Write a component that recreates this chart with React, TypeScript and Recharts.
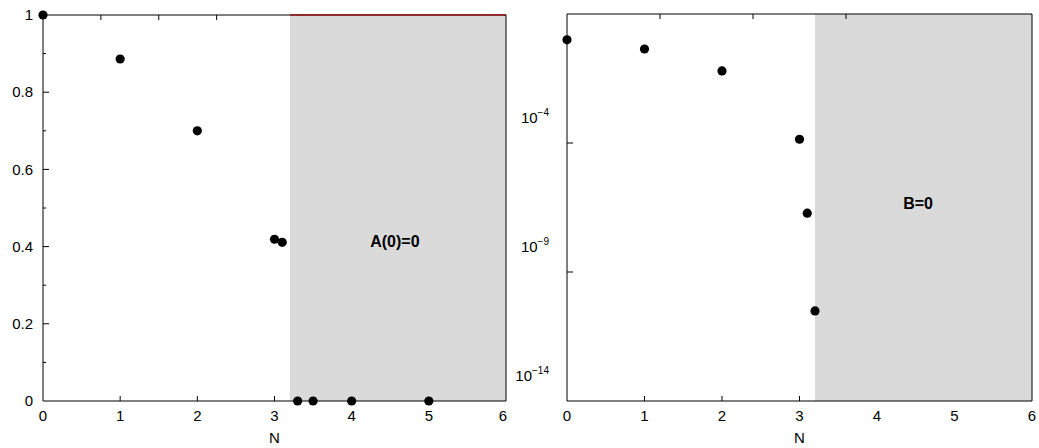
import { ComposedChart, Scatter, Line, XAxis, YAxis, ReferenceArea, ReferenceDot, ReferenceLine } from 'recharts';

// horizontal axis, shared by both panels
const nTicks = [0, 1, 2, 3, 4, 5, 6];
const shadeStart = 3.2;

// left panel: A(0) against N
const leftN = [0, 1, 2, 3, 3.1, 3.3, 3.5, 4, 5];
const leftA = [1, 0.886, 0.7, 0.419, 0.411, 0, 0, 0, 0];
const leftYTicks = [0, 0.1, 0.2, 0.3, 0.4, 0.5, 0.6, 0.7, 0.8, 0.9, 1];
const leftLabelled = [0, 0.2, 0.4, 0.6, 0.8, 1];
const edgeN = [3.2, 6];
const edgeA = [1, 1];

// right panel: B against N (log scale)
const rightN = [0, 1, 2, 3, 3.1, 3.2];
const rightB = [1.0, 0.44, 0.062, 1.4e-4, 1.9e-7, 3.1e-11];
const rightYTicks = [1e-4, 1e-9, 1e-14];
const rightExp = ['−4', '−9', '−14'];

const leftData = leftN.map((n, i) => ({ n, v: leftA[i] }));
const edgeData = edgeN.map((n, i) => ({ n, v: edgeA[i] }));
const rightData = rightN.map((n, i) => ({ n, v: rightB[i] }));

const FONT = '"Liberation Sans", Arial, sans-serif';
const SHADE = '#dadada';
const FS = 15;

const Dot = (props: any) => <circle cx={props.cx} cy={props.cy} r={4.6} fill="#000" />;

// bottom ticks point inward; none drawn inside the shaded band
const BottomTick = ({ x, y, payload }: any) => {
  const v = payload.value;
  return (
    <g>
      {v > 0 && v < shadeStart && <line x1={x} x2={x} y1={y} y2={y - 5} stroke="#000" />}
      <text x={x} y={y + 20} textAnchor="middle" fontSize={FS} fill="#000">{v}</text>
    </g>
  );
};

const TopTick = ({ x, y, payload }: any) => {
  const v = payload.value;
  if (v <= 0 || v >= shadeStart) return <g />;
  return <line x1={x} x2={x} y1={y} y2={y + 5} stroke="#000" />;
};

const LeftYTick = ({ x, y, payload }: any) => {
  const v = payload.value;
  const major = leftLabelled.some((t) => Math.abs(t - v) < 1e-9);
  return (
    <g>
      {v > 0 && v < 1 && <line x1={x} x2={x + (major ? 6 : 3)} y1={y} y2={y} stroke="#000" />}
      {major && (
        <text x={x - 10} y={y} dy="0.35em" textAnchor="end" fontSize={FS} fill="#000">
          {Number(v.toFixed(1)).toString()}
        </text>
      )}
    </g>
  );
};

const LogYTick = ({ x, y, payload, index }: any) => (
  <g>
    {payload.value > 1e-14 && <line x1={x} x2={x + 6} y1={y} y2={y} stroke="#000" />}
    <text x={x - 18} y={y - 20} textAnchor="end" fontSize={FS} fill="#000">
      10<tspan dy={-7} fontSize={10}>{rightExp[index]}</tspan>
    </text>
  </g>
);

const BoldNote = ({ text }: { text: string }) => (props: any) => {
  const { viewBox } = props;
  return (
    <text x={viewBox.x} y={viewBox.y} dy="0.35em" textAnchor="middle" fontSize={16} fontWeight="bold" fill="#000">
      {text}
    </text>
  );
};

export default function App() {
  return (
    <div style={{ position: 'relative', width: 1039, height: 448, background: '#fff', fontFamily: FONT }}>
      <style>{'body{margin:0}'}</style>

      <div style={{ position: 'absolute', left: 0, top: 0 }}>
        <ComposedChart width={507} height={448} data={leftData} margin={{ top: 14, right: 0, bottom: 0, left: 0 }}>
          <ReferenceArea x1={shadeStart} x2={6} y1={0} y2={1} fill={SHADE} fillOpacity={1} stroke="none" ifOverflow="visible" />
          <XAxis
            dataKey="n"
            type="number"
            domain={[0, 6]}
            ticks={nTicks}
            height={47}
            tickSize={0}
            tickMargin={0}
            tick={<BottomTick />}
            axisLine={{ stroke: '#000' }}
            label={{ value: 'N', position: 'insideBottom', offset: 5, fontSize: FS, fill: '#000' }}
          />
          <XAxis xAxisId="t" orientation="top" type="number" domain={[0, 6]} ticks={nTicks} height={1} tickSize={0} tickMargin={0} tick={<TopTick />} axisLine={false} />
          <YAxis
            dataKey="v"
            type="number"
            domain={[0, 1]}
            ticks={leftYTicks}
            interval={0}
            width={43}
            tickSize={0}
            tickMargin={0}
            tick={<LeftYTick />}
            axisLine={{ stroke: '#000' }}
          />
          <YAxis yAxisId="r" orientation="right" type="number" domain={[0, 1]} width={1} tick={false} tickLine={false} axisLine={{ stroke: '#000' }} />
          {/* top border left of the band; the band's top edge is the red A(0)=1 line */}
          <ReferenceLine segment={[{ x: 0, y: 1 }, { x: shadeStart, y: 1 }]} stroke="#000" ifOverflow="visible" />
          <Line data={edgeData} dataKey="v" stroke="#8e2a2a" strokeWidth={2} dot={false} isAnimationActive={false} />
          <Scatter data={leftData} dataKey="v" shape={<Dot />} isAnimationActive={false} />
          <ReferenceDot x={4.56} y={0.414} r={0} fill="none" stroke="none" label={BoldNote({ text: 'A(0)=0' })} />
        </ComposedChart>
      </div>

      <div style={{ position: 'absolute', left: 507, top: 0 }}>
        <ComposedChart width={532} height={448} data={rightData} margin={{ top: 13, right: 6, bottom: 0, left: 0 }}>
          <ReferenceArea x1={shadeStart} x2={6} y1={1e-14} y2={10} fill={SHADE} fillOpacity={1} stroke="none" ifOverflow="visible" />
          <XAxis
            dataKey="n"
            type="number"
            domain={[0, 6]}
            ticks={nTicks}
            height={47}
            tickSize={0}
            tickMargin={0}
            tick={<BottomTick />}
            axisLine={{ stroke: '#000' }}
            label={{ value: 'N', position: 'insideBottom', offset: 5, fontSize: FS, fill: '#000' }}
          />
          <XAxis xAxisId="t" orientation="top" type="number" domain={[0, 6]} ticks={nTicks} height={1} tickSize={0} tickMargin={0} tick={<TopTick />} axisLine={{ stroke: '#000' }} />
          <YAxis
            dataKey="v"
            type="number"
            scale="log"
            domain={[1e-14, 10]}
            allowDataOverflow
            ticks={rightYTicks}
            interval={0}
            width={60}
            tickSize={0}
            tickMargin={0}
            tick={<LogYTick />}
            axisLine={{ stroke: '#000' }}
          />
          <YAxis yAxisId="r" orientation="right" type="number" domain={[0, 1]} width={1} tick={false} tickLine={false} axisLine={{ stroke: '#000' }} />
          <Scatter data={rightData} dataKey="v" shape={<Dot />} isAnimationActive={false} />
          <ReferenceDot x={4.53} y={4.4e-7} r={0} fill="none" stroke="none" label={BoldNote({ text: 'B=0' })} />
        </ComposedChart>
      </div>
    </div>
  );
}
